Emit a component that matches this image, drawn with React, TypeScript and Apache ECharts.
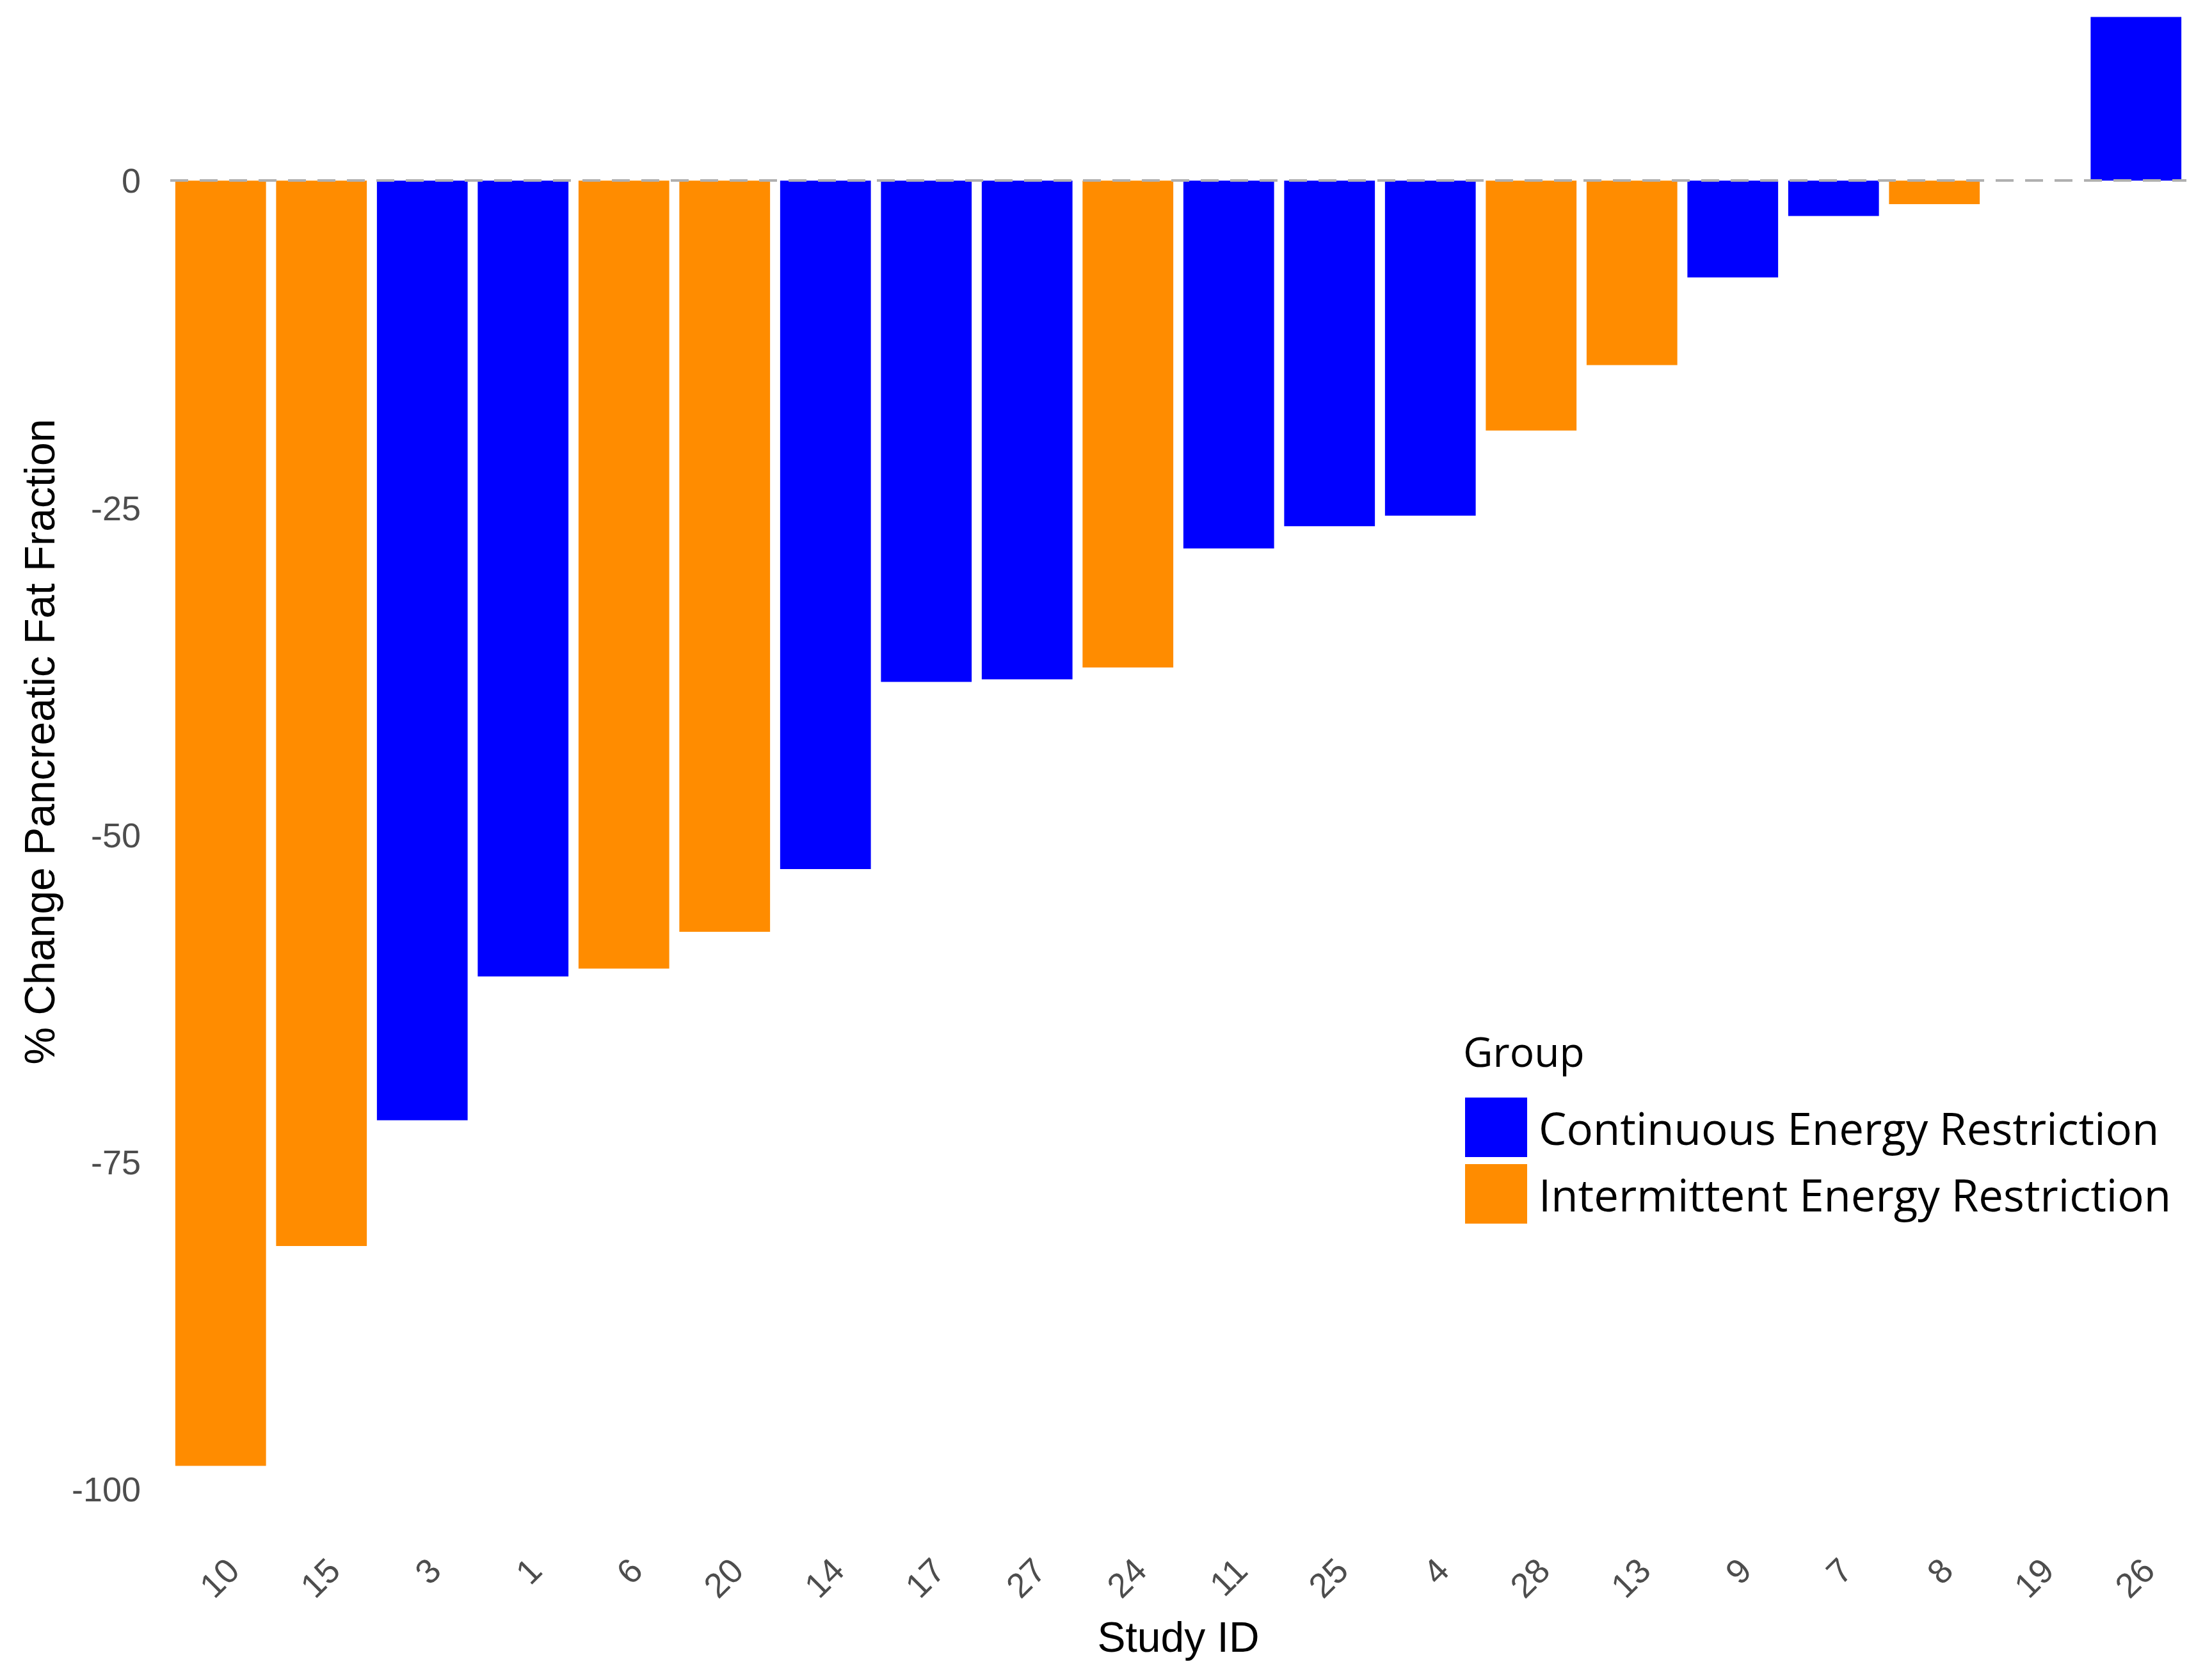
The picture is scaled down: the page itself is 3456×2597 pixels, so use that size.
import React, { useEffect, useRef } from "react";
import * as echarts from "echarts";

const studyIds = ["10", "15", "3", "1", "6", "20", "14", "17", "27", "24", "11", "25", "4", "28", "13", "9", "7", "8", "19", "26"];
const changeValues = [-98.2, -81.4, -71.8, -60.8, -60.2, -57.4, -52.6, -38.3, -38.1, -37.2, -28.1, -26.4, -25.6, -19.1, -14.1, -7.4, -2.7, -1.8, 0, 12.5];
const groups = ["IER", "IER", "CER", "CER", "IER", "IER", "CER", "CER", "CER", "IER", "CER", "CER", "CER", "IER", "IER", "CER", "CER", "IER", "IER", "CER"];
const yTicks = [-100, -75, -50, -25, 0];
const groupNames = { CER: "Continuous Energy Restriction", IER: "Intermittent Energy Restriction" };
const groupColors = { CER: "#0000FF", IER: "#FF8C00" };

export default function App() {
  const ref = useRef<HTMLDivElement>(null);
  useEffect(() => {
    document.body.style.margin = "0";
    const chart = echarts.init(ref.current!, null, { renderer: "svg" });
    const mk = (g: "CER" | "IER", withLine: boolean) => ({
      name: groupNames[g],
      type: "bar",
      stack: "all",
      barWidth: "90%",
      itemStyle: { color: groupColors[g] },
      data: changeValues.map((v, i) => (groups[i] === g ? v : null)),
      z: 2,
      ...(withLine
        ? {
            markLine: {
              silent: true,
              symbol: "none",
              label: { show: false },
              lineStyle: { color: "#B0B0B0", width: 4, type: [28, 18] },
              data: [{ yAxis: 0 }],
              z: 5,
            },
          }
        : {}),
    });
    chart.setOption({
      animation: false,
      backgroundColor: "#FFFFFF",
      grid: { left: 266, right: 40, top: 0, bottom: 194, containLabel: false },
      xAxis: {
        type: "category",
        data: studyIds,
        axisLine: { show: false },
        axisTick: { show: false },
        axisLabel: {
          interval: 0,
          rotate: 45,
          margin: 22,
          verticalAlign: "top",
          fontSize: 54,
          color: "#4D4D4D",
          fontFamily: "Liberation Sans, Arial, sans-serif",
        },
        name: "Study ID",
        nameLocation: "middle",
        nameGap: 122,
        nameTextStyle: { fontSize: 66, color: "#000000", fontFamily: "Liberation Sans, Arial, sans-serif" },
      },
      yAxis: {
        type: "value",
        min: -103.7,
        max: 13.8,
        axisLine: { show: false },
        axisTick: { show: false },
        splitLine: { show: false },
        axisLabel: {
          customValues: yTicks,
          margin: 46,
          fontSize: 54,
          color: "#4D4D4D",
          fontFamily: "Liberation Sans, Arial, sans-serif",
        },
      },
      legend: {
        orient: "vertical",
        left: 2284,
        top: 1710,
        itemWidth: 97,
        itemHeight: 93,
        itemGap: 11,
        icon: "rect",
        data: [groupNames.CER, groupNames.IER],
        textStyle: { fontSize: 69, color: "#000000", fontFamily: "Open Sans, sans-serif", padding: [0, 0, 0, 13] },
      },
      graphic: [
        {
          type: "text",
          x: 2286,
          y: 1642,
          style: {
            text: "Group",
            fontSize: 64,
            fill: "#000000",
            fontFamily: "Open Sans, sans-serif",
            textVerticalAlign: "middle",
          },
        },
        {
          type: "text",
          x: 62,
          y: 1159,
          rotation: Math.PI / 2,
          style: {
            text: "% Change Pancreatic Fat Fraction",
            fontSize: 66,
            fill: "#000000",
            fontFamily: "Liberation Sans, Arial, sans-serif",
            textAlign: "center",
            textVerticalAlign: "middle",
          },
        },
      ],
      series: [mk("CER", false), mk("IER", true)],
    });
    return () => chart.dispose();
  }, []);
  return <div ref={ref} style={{ width: 3456, height: 2597 }} />;
}
